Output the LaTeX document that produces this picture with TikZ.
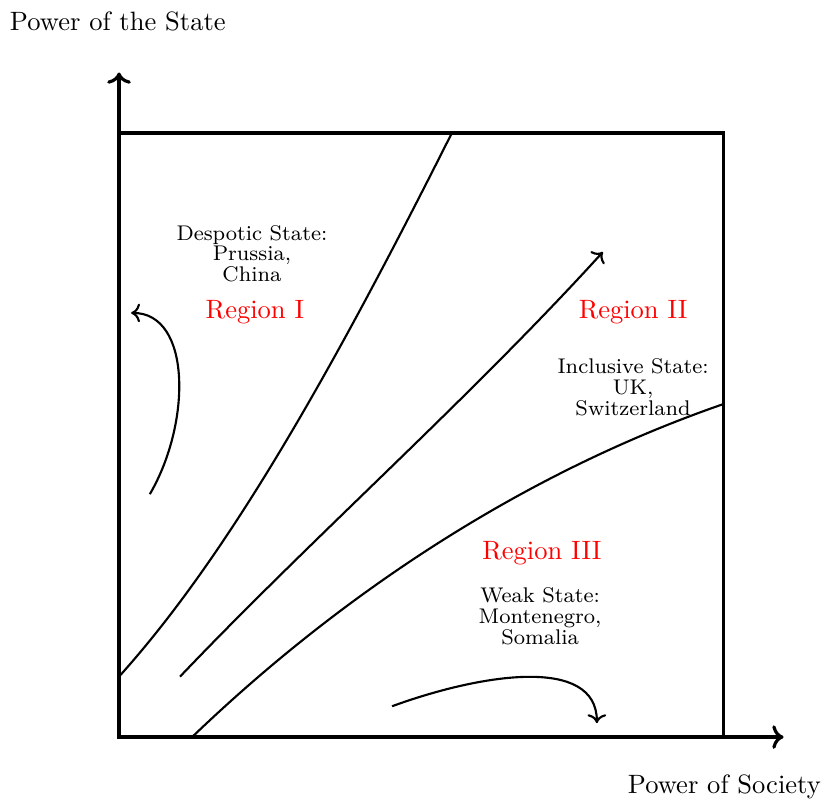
\documentclass[tikz,border=0pt]{standalone}
\usetikzlibrary{arrows.meta}
\begin{document}
\begin{tikzpicture}[x=0.8cm,y=0.8cm,
  frame/.style={very thick},
  curve/.style={thick},
  region/.style={text=red},
  info/.style={font={\fontsize{8}{7.9}\selectfont}, align=center},
  axislabel/.style={}]
\useasboundingbox (-1.97,-1.04) rectangle (11.62,12.2);
% named points
\coordinate (O) at (0,0);
\coordinate (Xend) at (11,0);
\coordinate (Yend) at (0,11);
\coordinate (TR) at (10,10);
\coordinate (a1) at (0,1);
\coordinate (a2) at (5.51,10);
\coordinate (b1) at (1.01,1);
\coordinate (b2) at (8.01,8.03);
\coordinate (c1) at (1.21,0);
\coordinate (c2) at (10,5.51);
\coordinate (d1) at (0.51,4.02);
\coordinate (d2) at (0.2,7.02);
\coordinate (e1) at (4.52,0.51);
\coordinate (e2) at (7.91,0.23);
% axes and frame
\draw[frame,->] (O) -- (Yend);
\draw[frame,->] (O) -- (Xend);
\draw[frame] (O) rectangle (TR);
% curves
\draw[curve] (a1) .. controls (1.8,3) and (3.5,6) .. (a2);
\draw[curve,->] (b1) .. controls (3.2,3.3) and (5.8,5.6) .. (b2);
\draw[curve] (c1) .. controls (3.5,2.2) and (6.5,4.3) .. (c2);
\draw[curve,->] (d1) .. controls (1.2,5.2) and (1.2,7.02) .. (d2);
\draw[curve,->] (e1) .. controls (6,1.05) and (7.91,1.35) .. (e2);
% labels
\node[axislabel] (ylab) at (-0.02,11.84) {Power of the State};
\node[axislabel] (xlab) at (10.02,-0.83) {Power of Society};
\node[info] (despotic) at (2.2,8.0) {Despotic State:\\Prussia,\\China};
\node[region] (r1) at (2.25,7.04) {Region I};
\node[region] (r2) at (8.51,7.04) {Region II};
\node[info] (inclusive) at (8.51,5.79) {Inclusive State:\\UK,\\Switzerland};
\node[region] (r3) at (7.0,3.05) {Region III};
\node[info] (weak) at (6.97,2.0) {Weak State:\\Montenegro,\\Somalia};
\end{tikzpicture}
\end{document}
